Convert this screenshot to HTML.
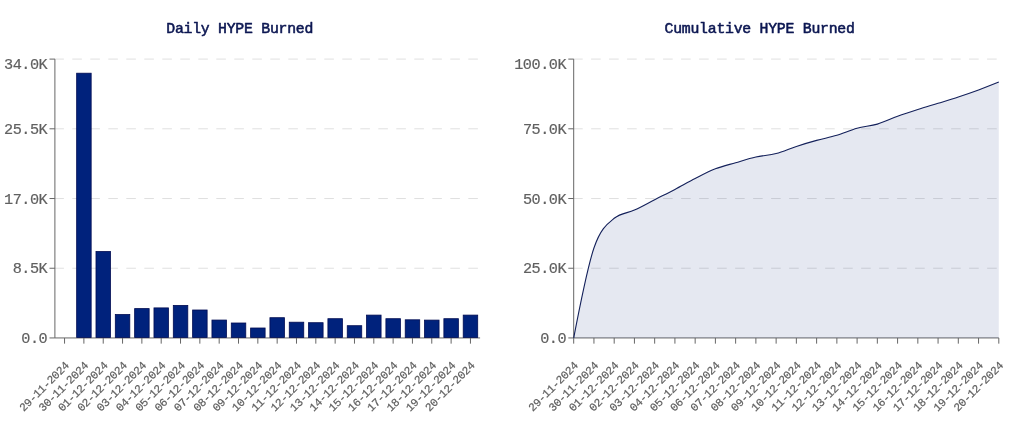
<!DOCTYPE html>
<html lang="en">
<head>
<meta charset="utf-8">
<title>HYPE Burned</title>
<style>
html,body{margin:0;padding:0;background:#fff;}
body{width:1024px;height:425px;overflow:hidden;font-family:"Liberation Mono","DejaVu Sans Mono",monospace;}
svg{display:block;}
svg text{font-family:"Liberation Mono","DejaVu Sans Mono",monospace;}
.ylab text{font-size:15.2px;fill:#606060;letter-spacing:-0.48px;stroke:#606060;stroke-width:0.2px;}
.xlab text{font-size:11.3px;fill:#606060;letter-spacing:-0.3px;stroke:#606060;stroke-width:0.2px;}
.title{font-size:14.8px;font-weight:normal;fill:#0c1752;letter-spacing:-0.24px;stroke:#0c1752;stroke-width:0.55px;stroke-linejoin:round;}
</style>
</head>
<body>
<svg width="1024" height="425" viewBox="0 0 1024 425">
<rect x="0" y="0" width="1024" height="425" fill="#ffffff"/>
<g class="chart">
<g class="grid" stroke="#dcdcdc" stroke-width="0.9" stroke-dasharray="9.6 8.4" fill="none">
<line x1="54.3" y1="268.24" x2="480.1" y2="268.24"/>
<line x1="54.3" y1="198.53" x2="480.1" y2="198.53"/>
<line x1="54.3" y1="128.81" x2="480.1" y2="128.81"/>
<line x1="54.3" y1="59.1" x2="480.1" y2="59.1"/>
</g>
<g class="axis" stroke="#666" stroke-width="1.0" fill="none">
<line x1="54.9" y1="59.1" x2="54.9" y2="337.95"/>
<line x1="54.9" y1="337.95" x2="480.1" y2="337.95"/>
<line x1="49.5" y1="337.95" x2="54.9" y2="337.95"/>
<line x1="49.5" y1="268.24" x2="54.9" y2="268.24"/>
<line x1="49.5" y1="198.53" x2="54.9" y2="198.53"/>
<line x1="49.5" y1="128.81" x2="54.9" y2="128.81"/>
<line x1="49.5" y1="59.1" x2="54.9" y2="59.1"/>
<line x1="64.56" y1="337.95" x2="64.56" y2="343.65"/>
<line x1="83.89" y1="337.95" x2="83.89" y2="343.65"/>
<line x1="103.22" y1="337.95" x2="103.22" y2="343.65"/>
<line x1="122.55" y1="337.95" x2="122.55" y2="343.65"/>
<line x1="141.87" y1="337.95" x2="141.87" y2="343.65"/>
<line x1="161.2" y1="337.95" x2="161.2" y2="343.65"/>
<line x1="180.53" y1="337.95" x2="180.53" y2="343.65"/>
<line x1="199.85" y1="337.95" x2="199.85" y2="343.65"/>
<line x1="219.18" y1="337.95" x2="219.18" y2="343.65"/>
<line x1="238.51" y1="337.95" x2="238.51" y2="343.65"/>
<line x1="257.84" y1="337.95" x2="257.84" y2="343.65"/>
<line x1="277.16" y1="337.95" x2="277.16" y2="343.65"/>
<line x1="296.49" y1="337.95" x2="296.49" y2="343.65"/>
<line x1="315.82" y1="337.95" x2="315.82" y2="343.65"/>
<line x1="335.15" y1="337.95" x2="335.15" y2="343.65"/>
<line x1="354.47" y1="337.95" x2="354.47" y2="343.65"/>
<line x1="373.8" y1="337.95" x2="373.8" y2="343.65"/>
<line x1="393.13" y1="337.95" x2="393.13" y2="343.65"/>
<line x1="412.45" y1="337.95" x2="412.45" y2="343.65"/>
<line x1="431.78" y1="337.95" x2="431.78" y2="343.65"/>
<line x1="451.11" y1="337.95" x2="451.11" y2="343.65"/>
<line x1="470.44" y1="337.95" x2="470.44" y2="343.65"/>
</g>
<g class="bars" fill="#00227c" stroke="#000c52" stroke-width="0.8">
<rect x="76.66" y="73.2" width="14.5" height="264.25"/>
<rect x="95.99" y="251.5" width="14.5" height="85.95"/>
<rect x="115.31" y="314.55" width="14.5" height="22.9"/>
<rect x="134.64" y="308.6" width="14.5" height="28.85"/>
<rect x="153.97" y="307.9" width="14.5" height="29.55"/>
<rect x="173.3" y="305.4" width="14.5" height="32.05"/>
<rect x="192.62" y="310" width="14.5" height="27.45"/>
<rect x="211.95" y="320.05" width="14.5" height="17.4"/>
<rect x="231.28" y="323" width="14.5" height="14.45"/>
<rect x="250.61" y="328" width="14.5" height="9.45"/>
<rect x="269.93" y="317.7" width="14.5" height="19.75"/>
<rect x="289.26" y="322.2" width="14.5" height="15.25"/>
<rect x="308.59" y="322.7" width="14.5" height="14.75"/>
<rect x="327.91" y="318.7" width="14.5" height="18.75"/>
<rect x="347.24" y="325.7" width="14.5" height="11.75"/>
<rect x="366.57" y="315.1" width="14.5" height="22.35"/>
<rect x="385.9" y="318.7" width="14.5" height="18.75"/>
<rect x="405.22" y="319.8" width="14.5" height="17.65"/>
<rect x="424.55" y="320.1" width="14.5" height="17.35"/>
<rect x="443.88" y="318.7" width="14.5" height="18.75"/>
<rect x="463.21" y="315.1" width="14.5" height="22.35"/>
</g>
<g class="ylab" text-anchor="end">
<text x="47.25" y="343.25">0.0</text>
<text x="47.25" y="273.24">8.5K</text>
<text x="47.25" y="203.53">17.0K</text>
<text x="47.25" y="133.81">25.5K</text>
<text x="47.25" y="69">34.0K</text>
</g>
<g class="xlab" text-anchor="end">
<text x="69.56" y="366.25" transform="rotate(-45 69.56 366.25)">29-11-2024</text>
<text x="88.89" y="366.25" transform="rotate(-45 88.89 366.25)">30-11-2024</text>
<text x="108.22" y="366.25" transform="rotate(-45 108.22 366.25)">01-12-2024</text>
<text x="127.55" y="366.25" transform="rotate(-45 127.55 366.25)">02-12-2024</text>
<text x="146.87" y="366.25" transform="rotate(-45 146.87 366.25)">03-12-2024</text>
<text x="166.2" y="366.25" transform="rotate(-45 166.2 366.25)">04-12-2024</text>
<text x="185.53" y="366.25" transform="rotate(-45 185.53 366.25)">05-12-2024</text>
<text x="204.85" y="366.25" transform="rotate(-45 204.85 366.25)">06-12-2024</text>
<text x="224.18" y="366.25" transform="rotate(-45 224.18 366.25)">07-12-2024</text>
<text x="243.51" y="366.25" transform="rotate(-45 243.51 366.25)">08-12-2024</text>
<text x="262.84" y="366.25" transform="rotate(-45 262.84 366.25)">09-12-2024</text>
<text x="282.16" y="366.25" transform="rotate(-45 282.16 366.25)">10-12-2024</text>
<text x="301.49" y="366.25" transform="rotate(-45 301.49 366.25)">11-12-2024</text>
<text x="320.82" y="366.25" transform="rotate(-45 320.82 366.25)">12-12-2024</text>
<text x="340.15" y="366.25" transform="rotate(-45 340.15 366.25)">13-12-2024</text>
<text x="359.47" y="366.25" transform="rotate(-45 359.47 366.25)">14-12-2024</text>
<text x="378.8" y="366.25" transform="rotate(-45 378.8 366.25)">15-12-2024</text>
<text x="398.13" y="366.25" transform="rotate(-45 398.13 366.25)">16-12-2024</text>
<text x="417.45" y="366.25" transform="rotate(-45 417.45 366.25)">17-12-2024</text>
<text x="436.78" y="366.25" transform="rotate(-45 436.78 366.25)">18-12-2024</text>
<text x="456.11" y="366.25" transform="rotate(-45 456.11 366.25)">19-12-2024</text>
<text x="475.44" y="366.25" transform="rotate(-45 475.44 366.25)">20-12-2024</text>
</g>
<text class="title" x="239.7" y="32.5" text-anchor="middle">Daily HYPE Burned</text>
</g>
<g class="chart">
<g class="grid" stroke="#dcdcdc" stroke-width="0.9" stroke-dasharray="9.6 8.4" fill="none">
<line x1="573.1" y1="268.24" x2="998.8" y2="268.24"/>
<line x1="573.1" y1="198.53" x2="998.8" y2="198.53"/>
<line x1="573.1" y1="128.81" x2="998.8" y2="128.81"/>
<line x1="573.1" y1="59.1" x2="998.8" y2="59.1"/>
</g>
<g class="axis" stroke="#666" stroke-width="1.0" fill="none">
<line x1="573.7" y1="59.1" x2="573.7" y2="337.95"/>
<line x1="573.7" y1="337.95" x2="998.8" y2="337.95"/>
<line x1="568.3" y1="337.95" x2="573.7" y2="337.95"/>
<line x1="568.3" y1="268.24" x2="573.7" y2="268.24"/>
<line x1="568.3" y1="198.53" x2="573.7" y2="198.53"/>
<line x1="568.3" y1="128.81" x2="573.7" y2="128.81"/>
<line x1="568.3" y1="59.1" x2="573.7" y2="59.1"/>
<line x1="573.7" y1="337.95" x2="573.7" y2="343.65"/>
<line x1="593.94" y1="337.95" x2="593.94" y2="343.65"/>
<line x1="614.19" y1="337.95" x2="614.19" y2="343.65"/>
<line x1="634.43" y1="337.95" x2="634.43" y2="343.65"/>
<line x1="654.67" y1="337.95" x2="654.67" y2="343.65"/>
<line x1="674.91" y1="337.95" x2="674.91" y2="343.65"/>
<line x1="695.16" y1="337.95" x2="695.16" y2="343.65"/>
<line x1="715.4" y1="337.95" x2="715.4" y2="343.65"/>
<line x1="735.64" y1="337.95" x2="735.64" y2="343.65"/>
<line x1="755.89" y1="337.95" x2="755.89" y2="343.65"/>
<line x1="776.13" y1="337.95" x2="776.13" y2="343.65"/>
<line x1="796.37" y1="337.95" x2="796.37" y2="343.65"/>
<line x1="816.61" y1="337.95" x2="816.61" y2="343.65"/>
<line x1="836.86" y1="337.95" x2="836.86" y2="343.65"/>
<line x1="857.1" y1="337.95" x2="857.1" y2="343.65"/>
<line x1="877.34" y1="337.95" x2="877.34" y2="343.65"/>
<line x1="897.59" y1="337.95" x2="897.59" y2="343.65"/>
<line x1="917.83" y1="337.95" x2="917.83" y2="343.65"/>
<line x1="938.07" y1="337.95" x2="938.07" y2="343.65"/>
<line x1="958.31" y1="337.95" x2="958.31" y2="343.65"/>
<line x1="978.56" y1="337.95" x2="978.56" y2="343.65"/>
<line x1="998.8" y1="337.95" x2="998.8" y2="343.65"/>
</g>
<path d="M573.7,337.95C580.45,302.88,587.2,267.8,593.94,248C600.69,228.2,607.44,223.77,614.19,218.3C620.93,212.83,627.68,213.2,634.43,210.1C641.18,207,647.92,203.15,654.67,199.7C661.42,196.25,668.17,192.93,674.91,189.4C681.66,185.87,688.41,181.93,695.16,178.5C701.9,175.07,708.65,171.43,715.4,168.8C722.15,166.17,728.9,164.67,735.64,162.7C742.39,160.73,749.14,158.53,755.89,157C762.63,155.47,769.38,155.27,776.13,153.5C782.88,151.73,789.62,148.58,796.37,146.4C803.12,144.22,809.87,142.25,816.61,140.4C823.36,138.55,830.11,137.32,836.86,135.3C843.6,133.28,850.35,130.17,857.1,128.3C863.85,126.43,870.6,126.1,877.34,124.1C884.09,122.1,890.84,118.73,897.59,116.3C904.33,113.87,911.08,111.67,917.83,109.5C924.58,107.33,931.32,105.38,938.07,103.3C944.82,101.22,951.57,99.22,958.31,97C965.06,94.78,971.81,92.48,978.56,90C985.3,87.52,992.05,84.81,998.8,82.1L998.8,337.95L573.7,337.95Z" fill="#002078" fill-opacity="0.102" stroke="none"/>
<path d="M573.7,337.95C580.45,302.88,587.2,267.8,593.94,248C600.69,228.2,607.44,223.77,614.19,218.3C620.93,212.83,627.68,213.2,634.43,210.1C641.18,207,647.92,203.15,654.67,199.7C661.42,196.25,668.17,192.93,674.91,189.4C681.66,185.87,688.41,181.93,695.16,178.5C701.9,175.07,708.65,171.43,715.4,168.8C722.15,166.17,728.9,164.67,735.64,162.7C742.39,160.73,749.14,158.53,755.89,157C762.63,155.47,769.38,155.27,776.13,153.5C782.88,151.73,789.62,148.58,796.37,146.4C803.12,144.22,809.87,142.25,816.61,140.4C823.36,138.55,830.11,137.32,836.86,135.3C843.6,133.28,850.35,130.17,857.1,128.3C863.85,126.43,870.6,126.1,877.34,124.1C884.09,122.1,890.84,118.73,897.59,116.3C904.33,113.87,911.08,111.67,917.83,109.5C924.58,107.33,931.32,105.38,938.07,103.3C944.82,101.22,951.57,99.22,958.31,97C965.06,94.78,971.81,92.48,978.56,90C985.3,87.52,992.05,84.81,998.8,82.1" fill="none" stroke="#13205a" stroke-width="1.1"/>
<g class="ylab" text-anchor="end">
<text x="566.05" y="343.25">0.0</text>
<text x="566.05" y="273.24">25.0K</text>
<text x="566.05" y="203.53">50.0K</text>
<text x="566.05" y="133.81">75.0K</text>
<text x="566.05" y="69">100.0K</text>
</g>
<g class="xlab" text-anchor="end">
<text x="578.7" y="366.25" transform="rotate(-45 578.7 366.25)">29-11-2024</text>
<text x="598.94" y="366.25" transform="rotate(-45 598.94 366.25)">30-11-2024</text>
<text x="619.19" y="366.25" transform="rotate(-45 619.19 366.25)">01-12-2024</text>
<text x="639.43" y="366.25" transform="rotate(-45 639.43 366.25)">02-12-2024</text>
<text x="659.67" y="366.25" transform="rotate(-45 659.67 366.25)">03-12-2024</text>
<text x="679.91" y="366.25" transform="rotate(-45 679.91 366.25)">04-12-2024</text>
<text x="700.16" y="366.25" transform="rotate(-45 700.16 366.25)">05-12-2024</text>
<text x="720.4" y="366.25" transform="rotate(-45 720.4 366.25)">06-12-2024</text>
<text x="740.64" y="366.25" transform="rotate(-45 740.64 366.25)">07-12-2024</text>
<text x="760.89" y="366.25" transform="rotate(-45 760.89 366.25)">08-12-2024</text>
<text x="781.13" y="366.25" transform="rotate(-45 781.13 366.25)">09-12-2024</text>
<text x="801.37" y="366.25" transform="rotate(-45 801.37 366.25)">10-12-2024</text>
<text x="821.61" y="366.25" transform="rotate(-45 821.61 366.25)">11-12-2024</text>
<text x="841.86" y="366.25" transform="rotate(-45 841.86 366.25)">12-12-2024</text>
<text x="862.1" y="366.25" transform="rotate(-45 862.1 366.25)">13-12-2024</text>
<text x="882.34" y="366.25" transform="rotate(-45 882.34 366.25)">14-12-2024</text>
<text x="902.59" y="366.25" transform="rotate(-45 902.59 366.25)">15-12-2024</text>
<text x="922.83" y="366.25" transform="rotate(-45 922.83 366.25)">16-12-2024</text>
<text x="943.07" y="366.25" transform="rotate(-45 943.07 366.25)">17-12-2024</text>
<text x="963.31" y="366.25" transform="rotate(-45 963.31 366.25)">18-12-2024</text>
<text x="983.56" y="366.25" transform="rotate(-45 983.56 366.25)">19-12-2024</text>
<text x="1003.8" y="366.25" transform="rotate(-45 1003.8 366.25)">20-12-2024</text>
</g>
<text class="title" x="759.6" y="32.5" text-anchor="middle">Cumulative HYPE Burned</text>
</g>
</svg>
</body>
</html>
